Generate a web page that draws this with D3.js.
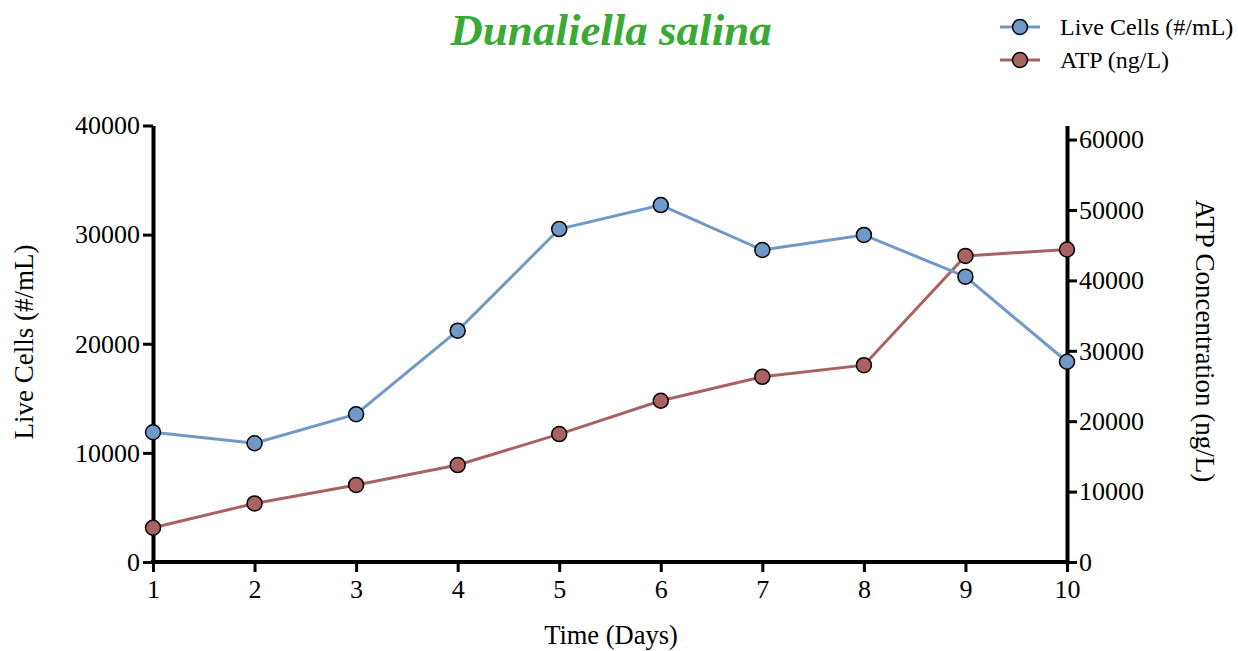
<!DOCTYPE html>
<html>
<head>
<meta charset="utf-8">
<script src="https://cdn.jsdelivr.net/npm/d3@7"></script>
<style>
  body { margin: 0; background: #fff; }
  svg { display: block; font-family: 'Liberation Serif', 'Times New Roman', serif; }
</style>
</head>
<body>
<svg width="1238" height="651"></svg>
<script>
const days = [1, 2, 3, 4, 5, 6, 7, 8, 9, 10]
const liveCells = [11890, 10880, 13540, 21200, 30510, 32710, 28590, 29970, 26150, 18350]
const atp = [4860, 8320, 10950, 13770, 18170, 22900, 26300, 27960, 43480, 44390]
const leftTicks = [0, 10000, 20000, 30000, 40000]
const rightTicks = [0, 10000, 20000, 30000, 40000, 50000, 60000]

const width = 1238
const height = 651
const margin = { top: 125.5, right: 171, bottom: 89, left: 153 }
const blue = '#7099c8'
const red = '#a9625f'

const svg = d3.select('svg')

// scales
const xScale = d3.scaleLinear()
  .domain([1, 10])
  .range([margin.left, width - margin.right])

const yLeft = d3.scaleLinear()
  .domain([0, 40000])
  .range([height - margin.bottom, margin.top])

const yRight = d3.scaleLinear()
  .domain([0, 62000])
  .range([height - margin.bottom, margin.top])

// axes
const xAxis = d3.axisBottom(xScale)
  .tickValues(days)
  .tickFormat(d3.format('d'))
  .tickSize(10)
  .tickSizeOuter(0)
  .tickPadding(8)

const leftAxis = d3.axisLeft(yLeft)
  .tickValues(leftTicks)
  .tickFormat(d3.format('d'))
  .tickSize(10)
  .tickSizeOuter(0)
  .tickPadding(3)

const rightAxis = d3.axisRight(yRight)
  .tickValues(rightTicks)
  .tickFormat(d3.format('d'))
  .tickSize(10)
  .tickSizeOuter(0)
  .tickPadding(2)

const gx = svg.append('g')
  .attr('transform', `translate(0, ${height - margin.bottom})`)
  .call(xAxis)

const gl = svg.append('g')
  .attr('transform', `translate(${margin.left}, 0)`)
  .call(leftAxis)

const gr = svg.append('g')
  .attr('transform', `translate(${width - margin.right}, 0)`)
  .call(rightAxis)

;[gx, gl, gr].forEach(g => {
  g.select('.domain').attr('stroke', '#000').attr('stroke-width', 4)
  g.selectAll('.tick line').attr('stroke', '#000').attr('stroke-width', 3)
  g.selectAll('.tick text')
    .attr('fill', '#000')
    .style('font-family', "'Liberation Serif', serif")
    .style('font-size', '26px')
})
// x axis domain line starts slightly out so the corners meet
gx.select('.domain').attr('d', `M${margin.left - 2},0H${width - margin.right + 2}`)

// lines
const lineLeft = d3.line()
  .x((d, i) => xScale(days[i]))
  .y(d => yLeft(d))

const lineRight = d3.line()
  .x((d, i) => xScale(days[i]))
  .y(d => yRight(d))

svg.append('path')
  .datum(atp)
  .attr('fill', 'none')
  .attr('stroke', red)
  .attr('stroke-width', 3)
  .attr('d', lineRight)

svg.append('path')
  .datum(liveCells)
  .attr('fill', 'none')
  .attr('stroke', blue)
  .attr('stroke-width', 3)
  .attr('d', lineLeft)

svg.selectAll('circle.atp')
  .data(atp)
  .enter().append('circle')
  .attr('class', 'atp')
  .attr('cx', (d, i) => xScale(days[i]))
  .attr('cy', d => yRight(d))
  .attr('r', 7.5)
  .attr('fill', red)
  .attr('stroke', '#000')
  .attr('stroke-width', 1.5)

svg.selectAll('circle.cells')
  .data(liveCells)
  .enter().append('circle')
  .attr('class', 'cells')
  .attr('cx', (d, i) => xScale(days[i]))
  .attr('cy', d => yLeft(d))
  .attr('r', 7.5)
  .attr('fill', blue)
  .attr('stroke', '#000')
  .attr('stroke-width', 1.5)

// title
svg.append('text')
  .attr('x', 611)
  .attr('y', 45)
  .attr('text-anchor', 'middle')
  .attr('fill', '#3aaa35')
  .style('font-size', '45px')
  .style('font-weight', 'bold')
  .style('font-style', 'italic')
  .text('Dunaliella salina')

// axis titles
svg.append('text')
  .attr('x', 611)
  .attr('y', 644)
  .attr('text-anchor', 'middle')
  .style('font-size', '26.5px')
  .text('Time (Days)')

svg.append('text')
  .attr('transform', 'translate(33, 342) rotate(-90)')
  .attr('text-anchor', 'middle')
  .style('font-size', '27px')
  .text('Live Cells (#/mL)')

svg.append('text')
  .attr('transform', 'translate(1196, 341) rotate(90)')
  .attr('text-anchor', 'middle')
  .style('font-size', '27px')
  .text('ATP Concentration (ng/L)')

// legend
const legendItems = [
  { label: 'Live Cells (#/mL)', color: blue },
  { label: 'ATP (ng/L)', color: red }
]

const legend = svg.append('g')
  .attr('transform', 'translate(1000, 27)')

legendItems.forEach((item, i) => {
  const g = legend.append('g').attr('transform', `translate(0, ${i * 33})`)
  g.append('line')
    .attr('x1', 0).attr('x2', 40)
    .attr('stroke', item.color)
    .attr('stroke-width', 3)
  g.append('circle')
    .attr('cx', 20)
    .attr('r', 7.5)
    .attr('fill', item.color)
    .attr('stroke', '#000')
    .attr('stroke-width', 1.5)
  g.append('text')
    .attr('x', 60)
    .attr('y', 8)
    .style('font-size', '24px')
    .text(item.label)
})
</script>
</body>
</html>
